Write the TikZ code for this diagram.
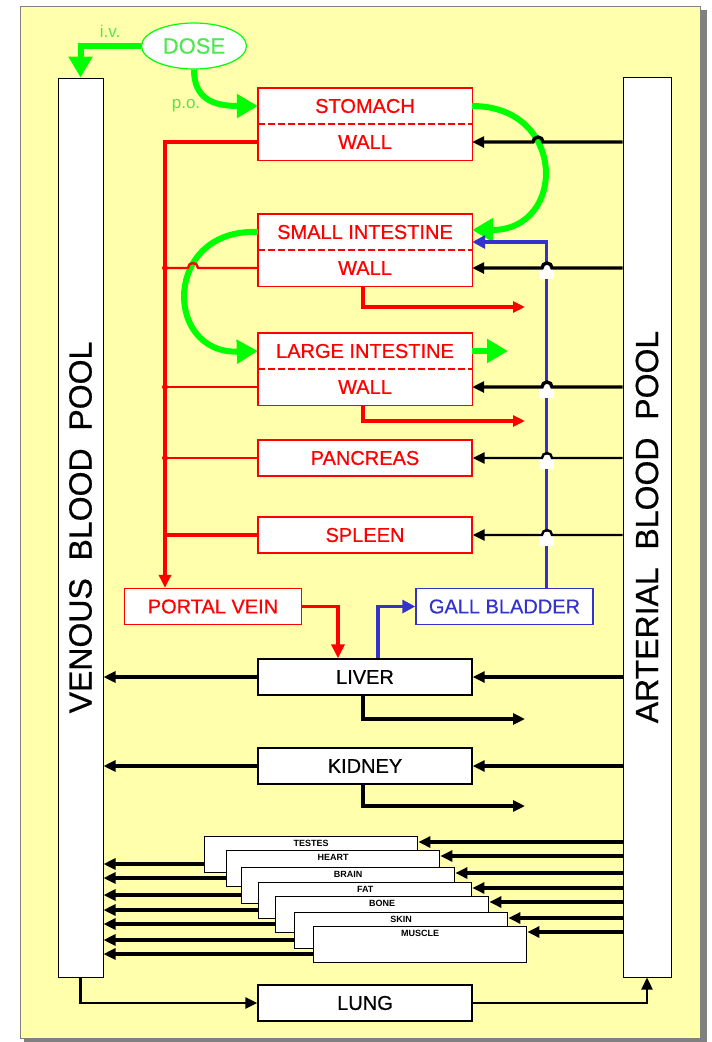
\documentclass[tikz,border=0pt]{standalone}
\usepackage{fontspec}
\setmainfont{Liberation Sans}
\newfontfamily\medfont[FakeBold=0.6]{Liberation Sans}
\usetikzlibrary{arrows.meta,shapes.geometric}

\definecolor{bgyellow}{RGB}{255,255,172}
\definecolor{shadowgray}{RGB}{128,128,128}
\definecolor{doseg}{RGB}{0,255,0}
\definecolor{dosetxt}{RGB}{80,230,80}
\definecolor{bileblue}{RGB}{51,51,204}

\begin{document}
\begin{tikzpicture}[x=1pt, y=-1pt,
    pool/.style={rectangle, draw=black, fill=white, line width=1pt, minimum width=45pt, minimum height=899pt, inner sep=0pt},
    poollbl/.style={rotate=90, font=\fontsize{32}{32}\medfont},
    gut/.style={rectangle, fill=white, text=red, minimum width=214pt, minimum height=36pt, inner sep=0pt, font=\fontsize{20}{20}\medfont},
    organ/.style={rectangle, draw=#1, fill=white, text=#1, minimum width=214pt, minimum height=36pt, inner sep=0pt, line width=1.4pt, font=\fontsize{20}{20}\medfont},
    tissue/.style={rectangle, draw=black, fill=white, line width=1.4pt, minimum width=213pt, minimum height=36pt, inner sep=0pt, anchor=north west},
    tlbl/.style={font=\fontsize{9}{9}\selectfont\bfseries, inner sep=0pt},
    doselbl/.style={text=dosetxt, font=\fontsize{17}{17}\selectfont},
    sep/.style={red, line width=2pt, dash pattern=on 7pt off 3pt},
    >={Triangle[length=12pt, width=11pt]},
    blood/.style={->, line width=3.4pt},
    thinblood/.style={->, line width=2.4pt},
    portal/.style={red, line width=3.8pt},
    branch/.style={red, line width=2.4pt},
    bile/.style={bileblue, line width=3.2pt, -{Triangle[length=13pt, width=13pt]}},
    dosearr/.style={doseg, line width=6pt, -{Triangle[length=21pt, width=23pt]}},
    patch/.style={fill=white}
]
% page and panel
\path[use as bounding box, fill=white] (0,0) rectangle (712,1042);
\fill[shadowgray] (24,10) rectangle (707,1042);
\draw[shadowgray, fill=bgyellow, line width=0.8pt] (20,6) rectangle (700,1038);

% blood pools
\node[pool] (ven) at (80.5,527.5) {};
\node[poollbl] at (ven) {VENOUS\ \ BLOOD\ \ POOL};
\node[pool, minimum width=48pt, minimum height=900pt] (art) at (647,527) {};
\node[poollbl] at (art) {ARTERIAL\ \ BLOOD\ \ POOL};

% dose
\node[ellipse, draw=doseg, fill=white, text=dosetxt, line width=1.2pt, minimum width=105pt, minimum height=46pt, inner sep=0pt, font=\fontsize{22}{22}\medfont] (dose) at (194,46) {DOSE};
\node[doselbl] (iv) at (110,31) {i.v.};
\node[doselbl] (po) at (186,106) {p.o.};

% gut compartments
\node[gut] (stom) at (365,106) {STOMACH};
\node[gut] (stomw) at (365,142) {WALL};
\draw[red, line width=1.4pt] (stom.north west) rectangle (stomw.south east);
\draw[sep] (stom.south west) -- (stom.south east);

\node[gut] (si) at (365,232) {SMALL INTESTINE};
\node[gut] (siw) at (365,268) {WALL};
\draw[red, line width=1.4pt] (si.north west) rectangle (siw.south east);
\draw[sep] (si.south west) -- (si.south east);

\node[gut] (li) at (365,351) {LARGE INTESTINE};
\node[gut] (liw) at (365,387) {WALL};
\draw[red, line width=1.4pt] (li.north west) rectangle (liw.south east);
\draw[sep] (li.south west) -- (li.south east);

\node[organ=red] (panc) at (365,458) {PANCREAS};
\node[organ=red] (spleen) at (365,535) {SPLEEN};
\node[organ=red, minimum width=177pt] (pv) at (213,606.5) {PORTAL VEIN};
\node[organ=bileblue, minimum width=177pt] (gb) at (504.5,606.5) {GALL BLADDER};
\node[organ=black] (liver) at (365,677) {LIVER};
\node[organ=black] (kidney) at (365,766) {KIDNEY};
\node[organ=black] (lung) at (365,1003) {LUNG};

% free ends of the elimination arrows
\coordinate (siout) at (525,307);
\coordinate (liout) at (525,421);
\coordinate (lvout) at (525,719);
\coordinate (kdout) at (525,806);
\coordinate (lifec) at (508,351);

% dosing
\draw[dosearr] (dose.west) -| (ven.north);
\draw[dosearr] (dose.south) .. controls (194,98) and (212,106) .. (stom.west);

% transit through the gut
\draw[dosearr] (stom.east) .. controls (567,106) and (567,230) .. ([yshift=2pt]si.east);
\draw[dosearr] (si.west) .. controls (163,228) and (163,354) .. (li.west);
\draw[dosearr] (li.east) -- (lifec);

% portal drainage
\coordinate (pj) at (165,142);
\draw[portal, -{Triangle[length=13pt, width=12pt]}] (stomw.west) -- (pj) -- (pj |- pv.north);
\draw[branch] (siw.west) -- (198,268) arc[start angle=0, end angle=180, radius=5pt] -- (pj |- siw);
\draw[branch] (liw.west) -- (pj |- liw);
\draw[branch] (panc.west) -- (pj |- panc);
\draw[portal] (spleen.west) -- (pj |- spleen);
\foreach \o in {siw, liw, panc}
  \fill[red] (pj |- \o) circle (3pt);
\draw[portal, -{Triangle[length=14pt, width=13pt]}] (pv.east) -| ([xshift=-27pt]liver.north);

% elimination
\draw[portal, ->] ([xshift=-2pt]siw.south) |- (siout);
\draw[portal, ->] ([xshift=-2pt]liw.south) |- (liout);
\draw[blood] ([xshift=-2pt]liver.south) |- (lvout);
\draw[blood] ([xshift=-2pt]kidney.south) |- (kdout);

% biliary recycling
\draw[bile] ([xshift=13pt]liver.north) |- (gb.west);
\draw[bile] ([xshift=42pt]gb.north) |- ([yshift=-10pt]si.east);

% arterial supply
\draw[blood] (art.west |- stomw) -- (543,142) arc[start angle=0, end angle=180, radius=5pt] -- (stomw.east);
\fill[patch] (539,265) rectangle (554,279);
\fill[patch] (539,384) rectangle (554,398);
\fill[patch] (539,455) rectangle (554,469);
\fill[patch] (539,532) rectangle (554,546);
\draw[blood] (art.west |- siw) -- (552,268) arc[start angle=0, end angle=180, radius=5pt] -- (siw.east);
\draw[blood] (art.west |- liw) -- (552,387) arc[start angle=0, end angle=180, radius=5pt] -- (liw.east);
\draw[thinblood] (art.west |- panc) -- (552,458) arc[start angle=0, end angle=180, radius=5pt] -- (panc.east);
\draw[thinblood] (art.west |- spleen) -- (552,535) arc[start angle=0, end angle=180, radius=5pt] -- (spleen.east);
\draw[blood] (art.west |- liver) -- (liver.east);
\draw[blood] (art.west |- kidney) -- (kidney.east);

% venous return
\draw[blood] (liver.west) -- (ven.east |- liver);
\draw[blood] (kidney.west) -- (ven.east |- kidney);

% other tissues
\foreach \n/\t/\x/\y in {testes/TESTES/204/836, heart/HEART/226/850, brain/BRAIN/241/867, fat/FAT/258/882, bone/BONE/275/896, skin/SKIN/294/912, muscle/MUSCLE/313/926} {
  \node[tissue] (\n) at (\x,\y) {};
  \node[tlbl] (\n-l) at ([yshift=-7pt]\n.north) {\t};
  \coordinate (\n-a) at ([yshift=-6pt]\n.north east);
  \coordinate (\n-v) at ([yshift=-28pt]\n.north west);
  \draw[blood] (art.west |- \n-a) -- (\n-a);
  \draw[blood] (\n-v) -- (ven.east |- \n-v);
}

% lung circuit
\draw[thinblood] (ven.south) |- (lung.west);
\draw[thinblood] (lung.east) -| (art.south);
\end{tikzpicture}
\end{document}
